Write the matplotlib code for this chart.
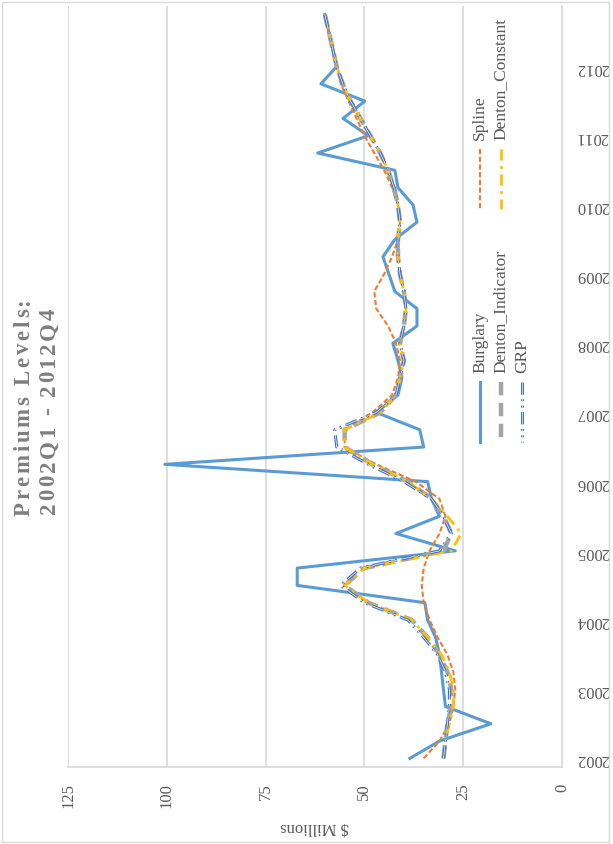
import numpy as np
import matplotlib.pyplot as plt
import matplotlib.patheffects as pe
from matplotlib.lines import Line2D
from matplotlib.patches import Rectangle

plt.rcParams['font.family'] = ['Liberation Serif', 'DejaVu Serif']

# quarterly data 2002Q1 .. 2012Q4 ($ millions)
years = [str(y) for y in range(2002, 2013)]
burglary = [38.5, 31, 18, 29.5, 30, 30.5, 31, 32, 34, 34.7, 67, 67, 27, 42, 31, 33,
            34, 100.5, 35, 36, 47, 41.5, 40.5, 41.5, 42.8, 36.7, 36.7, 42.3, 43.8, 45.3, 42.3, 36.7,
            37.7, 41.5, 42.3, 61.8, 49, 55.4, 49.9, 61, 57, 58, 59, 60]
spline = [35, 31, 28.5, 27.5, 27, 27.5, 29, 31.5, 33.5, 35, 35.5, 35, 33.5, 31, 29.5, 31,
          37, 47, 55, 55, 48, 43, 41.5, 41, 42, 44, 47, 47.5, 45, 43, 41.5, 41,
          41.5, 43, 45, 47.5, 50, 52, 54, 56, 57, 58, 59, 60]
denton_ind = [30, 29.5, 29, 28, 28, 29, 31, 34, 38, 49, 55, 50, 30, 28, 30, 33,
              39, 48, 55, 55, 46, 42, 41, 40, 41, 40, 39.5, 40, 41, 41.5, 41.5, 41,
              41.5, 42.5, 44, 46, 48.5, 51, 53.5, 55.5, 57, 58, 59, 60]
denton_const = [30, 29.5, 28.5, 27.5, 27.5, 28.5, 30.5, 34, 38, 49, 55, 50, 28, 25.5, 29, 33,
                39, 48, 55, 55, 46, 42, 41, 40, 41, 40, 39.5, 40, 41, 41.5, 41.5, 41,
                41.5, 42.5, 44, 46, 48.5, 51, 53.5, 55.5, 57, 58, 59, 60]
grp = [30, 29.5, 29, 28.5, 28.5, 29.5, 31.5, 35, 39, 50, 56, 51, 31, 28, 30, 33,
       40, 49, 57, 57.5, 47, 42, 41, 40, 41, 40, 39.5, 40, 41, 41.5, 41.5, 41,
       41.5, 42.5, 44, 46, 48.5, 51, 53.5, 55.5, 57, 58, 59, 60]

names = ['Burglary', 'Spline', 'Denton_Indicator', 'Denton_Constant', 'GRP']
series = [burglary, spline, denton_ind, denton_const, grp]
colors = ['#5B9BD5', '#ED7D31', '#A5A5A5', '#FFC000', '#4472C4']
styles = ['-', (0, (2.5, 1.2)), (0, (3, 1.7)), (0, (4, 2, 1, 2)), (0, (4, 1.5, 0.6, 1.5, 0.6, 1.5))]
widths = [2.2, 1.5, 3.2, 2.0, 2.2]
# GRP is drawn as a double (compound) line
doubles = [False, False, False, False, True]

W, H = 613, 845
fig = plt.figure(figsize=(W / 100, H / 100), dpi=100)
ax = fig.add_axes([68 / W, 1 - 768 / H, (562 - 68) / W, (768 - 7) / H])

def effects(double):
    if double:
        return [pe.Normal(), pe.Stroke(linewidth=0.5, foreground='white')]
    return None

idx = np.arange(len(burglary))
for vals, c, ls, lw, d in zip(series, colors, styles, widths, doubles):
    ax.plot(vals, idx, color=c, linestyle=ls, linewidth=lw, path_effects=effects(d))

ax.set_xlim(125, 0)
ax.set_ylim(-0.5, len(burglary) - 0.5)
ax.set_xticks([0, 25, 50, 75, 100, 125])
ax.grid(axis='x', color='#D9D9D9', linewidth=1.2)
ax.set_axisbelow(True)
for s in ['top', 'left']:
    ax.spines[s].set_visible(False)
for s in ['right', 'bottom']:
    ax.spines[s].set_color('#D9D9D9')
    ax.spines[s].set_linewidth(1.2)

ax.tick_params(axis='x', length=0, pad=11, labelsize=12, labelcolor='#595959', labelrotation=90)
ax.yaxis.tick_right()
ax.set_yticks(idx[::4])
ax.set_yticklabels(years)
ax.tick_params(axis='y', length=0, pad=10, labelsize=12, labelcolor='#595959', labelrotation=180)
for lab in ax.get_yticklabels():
    lab.set_va('center')

fig.text(315 / W, 1 - 827 / H, '$ Millions', rotation=180, ha='center', va='center',
         fontsize=12, color='#595959')

# title: letter-spaced, rotated, placed char by char
renderer = fig.canvas.get_renderer()

def spaced_title(xc, yc, s, size, gap):
    widths_px = []
    for ch in s:
        if ch == ' ':
            widths_px.append(size * 0.25 * 100 / 72)
            continue
        t = fig.text(0, 0, ch, fontsize=size, fontweight='bold')
        widths_px.append(t.get_window_extent(renderer).width)
        t.remove()
    total = sum(widths_px) + gap * (len(s) - 1)
    y = yc + total / 2
    for ch, w in zip(s, widths_px):
        if ch != ' ':
            fig.text(xc / W, 1 - y / H, ch, rotation=90, ha='center', va='bottom',
                     fontsize=size, fontweight='bold', color='#7F7F7F')
        y -= w + gap

spaced_title(24, 407, 'Premiums Levels:', 16.5, 2.8)
spaced_title(49, 411, '2002Q1 - 2012Q4', 16.5, 2.6)

# legend, drawn rotated like the rest of the chart
leg_x = [480, 480, 501, 501, 522]
leg_y = [373, 140, 373, 140, 373]
for name, c, ls, lw, d, lx, ly in zip(names, colors, styles, widths, doubles, leg_x, leg_y):
    fig.add_artist(Line2D([lx / W, lx / W], [1 - (ly + 10) / H, 1 - (ly + 70) / H],
                          transform=fig.transFigure, color=c, linestyle=ls, linewidth=lw,
                          path_effects=effects(d)))
    fig.text(lx / W, 1 - ly / H, name, rotation=90, ha='center', va='bottom',
             fontsize=12.5, color='#595959')

fig.add_artist(Rectangle((2 / W, 2 / H), (609 - 2) / W, (842 - 2) / H, transform=fig.transFigure,
                         fill=False, edgecolor='#D9D9D9', linewidth=1))

fig.savefig('out.png', dpi=100, facecolor='white')
